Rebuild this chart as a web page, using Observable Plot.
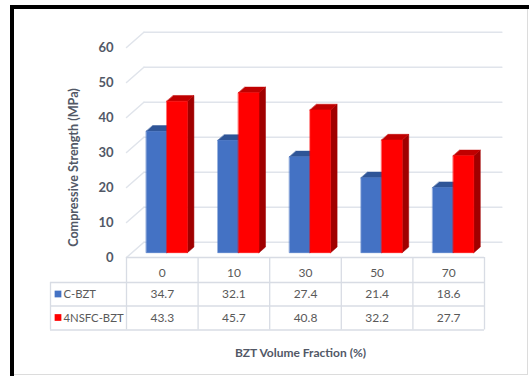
<!DOCTYPE html>
<html>
<head>
<meta charset="utf-8">
<script src="https://cdn.jsdelivr.net/npm/d3@7"></script>
<script src="https://cdn.jsdelivr.net/npm/@observablehq/plot@0.6"></script>
<style>
  html, body { margin: 0; padding: 0; background: #fff; }
  body { width: 529px; height: 376px; position: relative; overflow: hidden; font-family: Lato, sans-serif; }
  .frame { position: absolute; left: 10px; top: 5px; right: 0; bottom: 0; border-left: 4px solid #000; border-top: 4px solid #000; }
  .edge { position: absolute; left: 14px; top: 9px; width: 514px; height: 366px; box-sizing: border-box;
          border-right: 1px solid #dcdcdc; border-bottom: 1px solid #dcdcdc; }
  #chart { position: absolute; left: 0; top: 0; }
</style>
</head>
<body>
<div class="frame"></div>
<div class="edge"></div>
<div id="chart"></div>
<script>
// Compressive strength (MPa) by BZT volume fraction (%)
const categories = ["0", "10", "30", "50", "70"];
const seriesNames = ["C-BZT", "4NSFC-BZT"];
const cBZT = [34.7, 32.1, 27.4, 21.4, 18.6];
const nsfcBZT = [43.3, 45.7, 40.8, 32.2, 27.7];
const yTicks = [0, 10, 20, 30, 40, 50, 60];

const seriesValues = [cBZT, nsfcBZT];
const frontColor = ["#4472C4", "#FF0000"];
const topColor = ["#2F5597", "#C00000"];
const sideColor = ["#2A4A85", "#A00000"];
const textColor = "#595959";
const titleColor = "#525866";
const gridColor = "#e0e4eb";
const tableColor = "#d8dce4";

// Oblique 3D projection: one full depth step expressed in x-units and value units
const DX = 0.243, DV = 4.34;
const P = (x, v, d) => ({x: x + d * DX, y: v + d * DV});

// Bars sit between these depths, inside each category column
const D0 = 0.316, D1 = 0.69;
const OFF = 0.2, BW = 0.287;

const faces = {front: [], top: [], side: []};
seriesValues.forEach((vals, k) => {
  vals.forEach((v, i) => {
    const xl = i + OFF + k * BW, xr = xl + BW;
    const id = `${k}-${i}`;
    const push = (face, pts) => pts.forEach((p) => faces[face].push({...p, id, k}));
    push("front", [P(xl, 0, D0), P(xr, 0, D0), P(xr, v, D0), P(xl, v, D0)]);
    push("top", [P(xl, v, D0), P(xr, v, D0), P(xr, v, D1), P(xl, v, D1)]);
    push("side", [P(xr, 0, D0), P(xr, 0, D1), P(xr, v, D1), P(xr, v, D0)]);
  });
});

// Back wall gridlines and left wall diagonals
const back = yTicks.flatMap((v) => [{...P(0, v, 1), v}, {...P(categories.length, v, 1), v}]);
const wall = yTicks.flatMap((v) => [{...P(0, v, 0), v}, {...P(0, v, 1), v}]);

const barMarks = [];
seriesValues.forEach((_, k) => {
  for (const [face, colors] of [["side", sideColor], ["top", topColor], ["front", frontColor]]) {
    barMarks.push(Plot.line(faces[face].filter((d) => d.k === k), {
      x: "x", y: "y", z: "id", curve: "linear-closed",
      fill: colors[k], stroke: colors[k], strokeWidth: 0.5
    }));
  }
});

const cellText = {fill: textColor, fontSize: 12, textAnchor: "middle", lineAnchor: "middle"};
const keyText = {fill: textColor, fontSize: 11.3, textAnchor: "start", lineAnchor: "middle"};

const chart = Plot.plot({
  width: 529,
  height: 376,
  marginLeft: 126,
  marginRight: 45,
  marginTop: 47,
  marginBottom: 119,
  x: {domain: [0, categories.length], axis: null},
  y: {domain: [0, 60], axis: null},
  style: {fontFamily: "Lato, sans-serif", background: "transparent", overflow: "visible"},
  marks: [
    Plot.line(back, {x: "x", y: "y", z: "v", stroke: gridColor, strokeWidth: 1.5}),
    Plot.line(wall, {x: "x", y: "y", z: "v", stroke: gridColor, strokeWidth: 1.5}),
    ...barMarks,
    // value axis labels on the front plane
    Plot.text(yTicks, {x: 0, y: (d) => d, text: (d) => String(d), dx: -13, textAnchor: "end",
      fill: titleColor, fontWeight: "bold", fontSize: 13}),
    // data table: horizontal lines
    Plot.ruleY([0], {x1: 0, x2: categories.length, stroke: tableColor, strokeWidth: 1.3}),
    Plot.ruleY([0], {x1: 0, x2: categories.length, dy: 25, insetLeft: -76, stroke: tableColor, strokeWidth: 1.3}),
    Plot.ruleY([0], {x1: 0, x2: categories.length, dy: 48.5, insetLeft: -76, stroke: tableColor, strokeWidth: 1.3}),
    Plot.ruleY([0], {x1: 0, x2: categories.length, dy: 72.5, insetLeft: -76, stroke: tableColor, strokeWidth: 1.3}),
    // data table: vertical lines
    Plot.ruleX(d3.range(categories.length + 1), {y1: 0, y2: 0, insetBottom: -72.5, stroke: tableColor, strokeWidth: 1.3}),
    Plot.ruleX([0], {y1: 0, y2: 0, dx: -76, insetTop: 25, insetBottom: -72.5, stroke: tableColor, strokeWidth: 1.3}),
    // data table: header and values
    Plot.text(categories, {x: (d, i) => i + 0.5, y: 0, text: (d) => d, dy: 15.5, ...cellText}),
    Plot.text(cBZT, {x: (d, i) => i + 0.5, y: 0, text: (d) => d.toFixed(1), dy: 37, ...cellText}),
    Plot.text(nsfcBZT, {x: (d, i) => i + 0.5, y: 0, text: (d) => d.toFixed(1), dy: 60.5, ...cellText}),
    // row keys
    Plot.dot([seriesNames[0]], {x: 0, y: 0, dx: -68.5, dy: 36.5, symbol: "square", r: 3.8, fill: frontColor[0]}),
    Plot.dot([seriesNames[1]], {x: 0, y: 0, dx: -68.5, dy: 60, symbol: "square", r: 3.8, fill: frontColor[1]}),
    Plot.text([seriesNames[0]], {x: 0, y: 0, dx: -63, dy: 37, text: (d) => d, ...keyText}),
    Plot.text([seriesNames[1]], {x: 0, y: 0, dx: -63, dy: 60.5, text: (d) => d, ...keyText}),
    // axis titles
    Plot.text(["Compressive Strength (MPa)"], {frameAnchor: "left", dx: -53, dy: 15, rotate: -90,
      textAnchor: "middle", lineAnchor: "middle", fill: titleColor, fontWeight: "bold", fontSize: 12.6}),
    Plot.text(["BZT Volume Fraction (%)"], {frameAnchor: "bottom", dx: -5, dy: 96,
      textAnchor: "middle", lineAnchor: "middle", fill: titleColor, fontWeight: "bold", fontSize: 12})
  ]
});
document.getElementById("chart").append(chart);
</script>
</body>
</html>
